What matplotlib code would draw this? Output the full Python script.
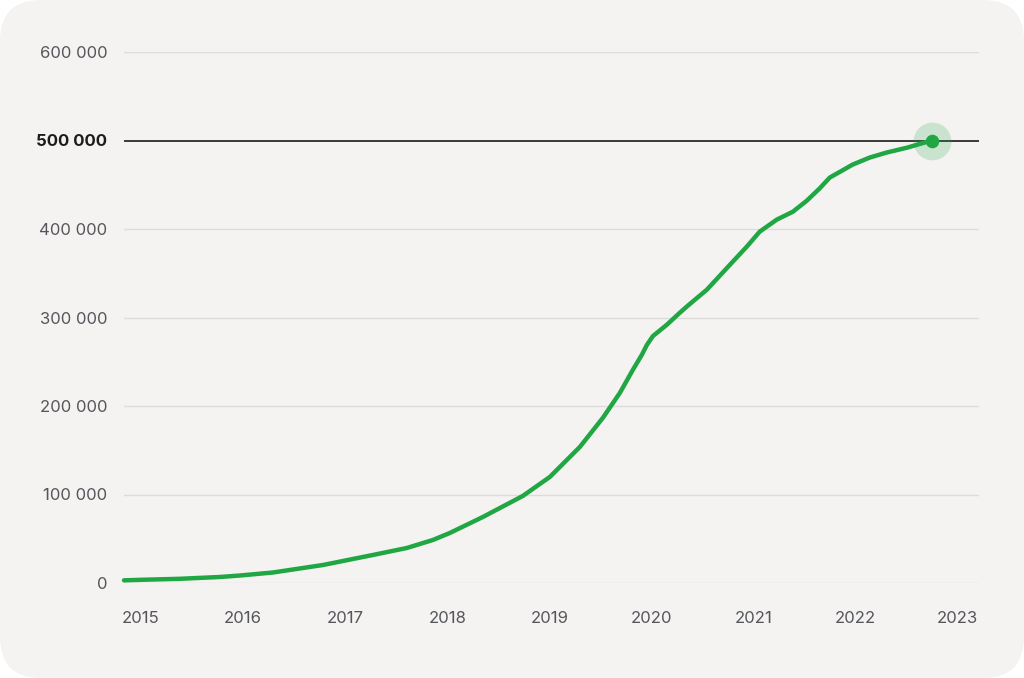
import numpy as np
import matplotlib.pyplot as plt
from matplotlib.patches import FancyBboxPatch

plt.rcParams['font.family'] = ['Inter', 'DejaVu Sans']

# 数据：年份（小数）与累计数量
years = [2014.833, 2015.0, 2015.382, 2015.774, 2015.970, 2016.293, 2016.783,
         2017.272, 2017.605, 2017.860, 2018.026, 2018.350, 2018.741, 2019.006,
         2019.300, 2019.525, 2019.692, 2019.819, 2019.907, 2019.956, 2020.015,
         2020.152, 2020.279, 2020.357, 2020.544, 2020.798, 2020.935, 2021.062,
         2021.229, 2021.386, 2021.523, 2021.650, 2021.748, 2021.846, 2021.973,
         2022.140, 2022.306, 2022.502, 2022.747]
values = [3000, 3600, 4750, 6800, 8480, 11880, 20360,
          31670, 39590, 48640, 56560, 74660, 98410, 119910,
          153840, 186650, 214930, 240950, 257910, 269000, 279000,
          291850, 305420, 313340, 331440, 363120, 380080, 397050,
          410620, 419500, 432000, 446000, 458140, 464500, 472840,
          480760, 486420, 491800, 500000]

x_ticks = [2015, 2016, 2017, 2018, 2019, 2020, 2021, 2022, 2023]
y_ticks = [0, 100000, 200000, 300000, 400000, 500000, 600000]
milestone = 500000

green = '#20a744'
bg = '#f4f3f1'

fig = plt.figure(figsize=(10.24, 6.78), dpi=100)
fig.patch.set_facecolor('white')
fig.patches.append(FancyBboxPatch((0, 0), 1, 1, boxstyle='round,pad=0,rounding_size=0.04',
                                  transform=fig.transFigure, facecolor=bg, edgecolor='none',
                                  mutation_aspect=1024 / 678, zorder=-10))

ax = fig.add_axes([124 / 1024, (678 - 583) / 678, (979 - 124) / 1024, (583 - 52) / 678])
ax.set_facecolor('none')
ax.set_xlim(2014.833, 2023.21)
ax.set_ylim(0, 600000)

for s in ax.spines.values():
    s.set_visible(False)

# 网格线
for v in y_ticks:
    if v == milestone:
        ax.axhline(v, color='#2b2b2b', lw=1.3, zorder=1)
    else:
        ax.axhline(v, color='#dedcda', lw=1.0, zorder=0)

ax.plot(years, values, color=green, lw=3.2, solid_capstyle='round',
        solid_joinstyle='round', zorder=3, clip_on=False)

# 终点标记
ax.scatter([years[-1]], [values[-1]], s=740, color=green, alpha=0.2, lw=0, zorder=4, clip_on=False)
ax.scatter([years[-1]], [values[-1]], s=95, color=green, lw=0, zorder=5, clip_on=False)

ax.set_yticks(y_ticks)
ax.set_yticklabels([f"{v:,}".replace(",", " ") for v in y_ticks])
ax.set_xticks(x_ticks)
ax.set_xticklabels([str(y) for y in x_ticks])
ax.tick_params(axis='y', length=0, pad=12, labelsize=12, labelcolor='#55565b')
ax.tick_params(axis='x', length=0, pad=20.5, labelsize=12, labelcolor='#55565b')

for lab, v in zip(ax.get_yticklabels(), y_ticks):
    if v == milestone:
        lab.set_fontweight('bold')
        lab.set_color('#1c1c1c')

fig.savefig('out.png', dpi=100, facecolor=fig.get_facecolor())
